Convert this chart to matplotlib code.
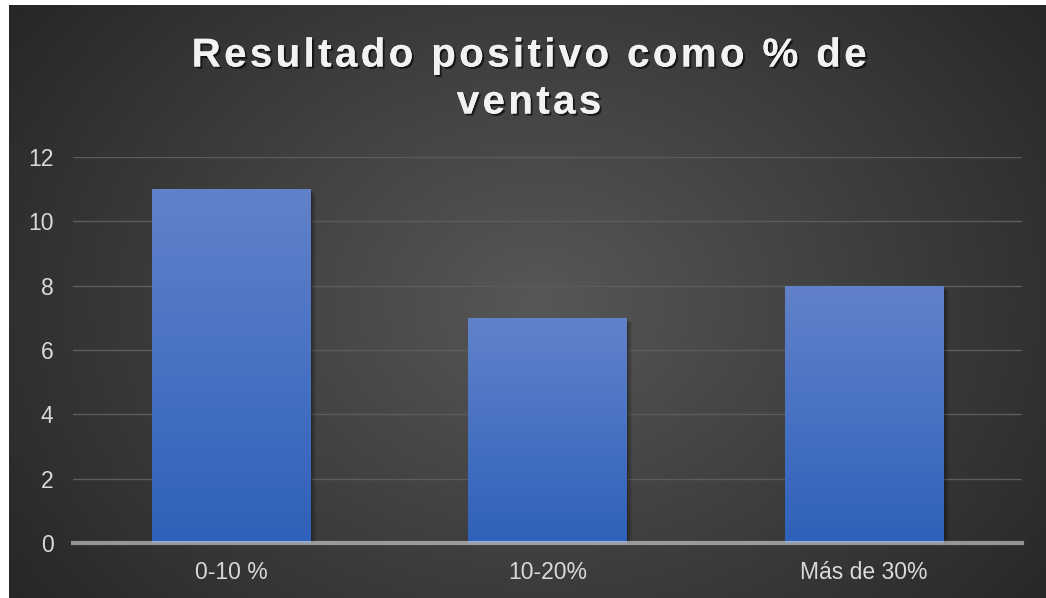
import matplotlib
matplotlib.use('Agg')
from matplotlib import pyplot
from matplotlib import patheffects
from matplotlib.patches import Rectangle
import numpy

categories = ['0-10 %', '10-20%', 'Más de 30%']
values = [11, 7, 8]
title = 'Resultado positivo como % de\nventas'

fig = pyplot.figure(figsize=(10.46, 5.98), dpi=100)
fig.patch.set_facecolor('white')

# fondo oscuro con degradado radial
bg = fig.add_axes([9 / 1046, 0, 1037 / 1046, 593 / 598])
bg.set_axis_off()
yy, xx = numpy.mgrid[0:300, 0:520]
r = numpy.sqrt(((xx - 265) / 330.0) ** 2 + ((yy - 150) / 260.0) ** 2)
r = numpy.clip(r, 0, 1)
centro = numpy.array([0x57, 0x57, 0x57]) / 255
borde = numpy.array([0x26, 0x26, 0x26]) / 255
img = centro[None, None, :] * (1 - r[..., None]) + borde[None, None, :] * r[..., None]
bg.imshow(img, aspect='auto', extent=[0, 1, 0, 1], interpolation='bicubic')
bg.set_xlim(0, 1)
bg.set_ylim(0, 1)

ax = fig.add_axes([73 / 1046, 55 / 598, 949 / 1046, 386 / 598])
ax.patch.set_alpha(0)
ax.set_xlim(-0.5, 2.5)
ax.set_ylim(0, 12)
ax.set_yticks(range(0, 13, 2))
ax.set_xticks(range(len(categories)))
ax.set_xticklabels(categories)

# cuadricula
ax.yaxis.grid(True, color='#5c5c5c', linewidth=1)
ax.set_axisbelow(True)
for s in ax.spines.values():
    s.set_visible(False)
ax.tick_params(length=0, colors='#d9d9d9', labelsize=16.5)
ax.tick_params(axis='y', pad=14)
ax.tick_params(axis='x', pad=13)

# barras con sombra y degradado vertical
ancho = 0.5
grad = numpy.linspace(0, 1, 256)[:, None]
top_c = numpy.array([0x61, 0x82, 0xCA]) / 255
bot_c = numpy.array([0x2F, 0x61, 0xBA]) / 255
grad_img = top_c[None, None, :] * (1 - grad[..., None]) + bot_c[None, None, :] * grad[..., None]
grad_img = numpy.repeat(grad_img, 2, axis=1)

for i, v in enumerate(values):
    x0 = i - ancho / 2
    for k, a in [(0.018, 0.10), (0.012, 0.14), (0.006, 0.18)]:
        ax.add_patch(Rectangle((x0 + k, -0.1), ancho, v + 0.1 - k * 8, facecolor='black',
                               alpha=a, edgecolor='none', zorder=2))
    rect = Rectangle((x0, 0), ancho, v, facecolor='none', edgecolor='none', zorder=3)
    ax.add_patch(rect)
    im = ax.imshow(grad_img, extent=[x0, x0 + ancho, 0, v], aspect='auto', zorder=3,
                   interpolation='bilinear')
    im.set_clip_path(rect)

ax.set_xlim(-0.5, 2.5)
ax.set_ylim(0, 12)

# eje horizontal
ax.axhline(0, color='#d9d9d9', alpha=0.6, linewidth=3, zorder=4, clip_on=False)

# titulo con espaciado entre letras
espaciado = '\u200a'
lineas = [espaciado.join(l) for l in title.split('\n')]
fig.text(529 / 1046, 1 - 79 / 598, '\n'.join(lineas), ha='center', va='center',
         fontsize=29, fontweight='bold', color='#f2f2f2', linespacing=1.3,
         family=['Liberation Sans', 'DejaVu Sans'],
         path_effects=[patheffects.withSimplePatchShadow(offset=(1.5, -1.5),
                                                         shadow_rgbFace='black', alpha=0.6),
                       patheffects.Normal()])

for lab in ax.get_xticklabels() + ax.get_yticklabels():
    lab.set_family(['Liberation Sans', 'DejaVu Sans'])

fig.savefig('out.png', dpi=100)
